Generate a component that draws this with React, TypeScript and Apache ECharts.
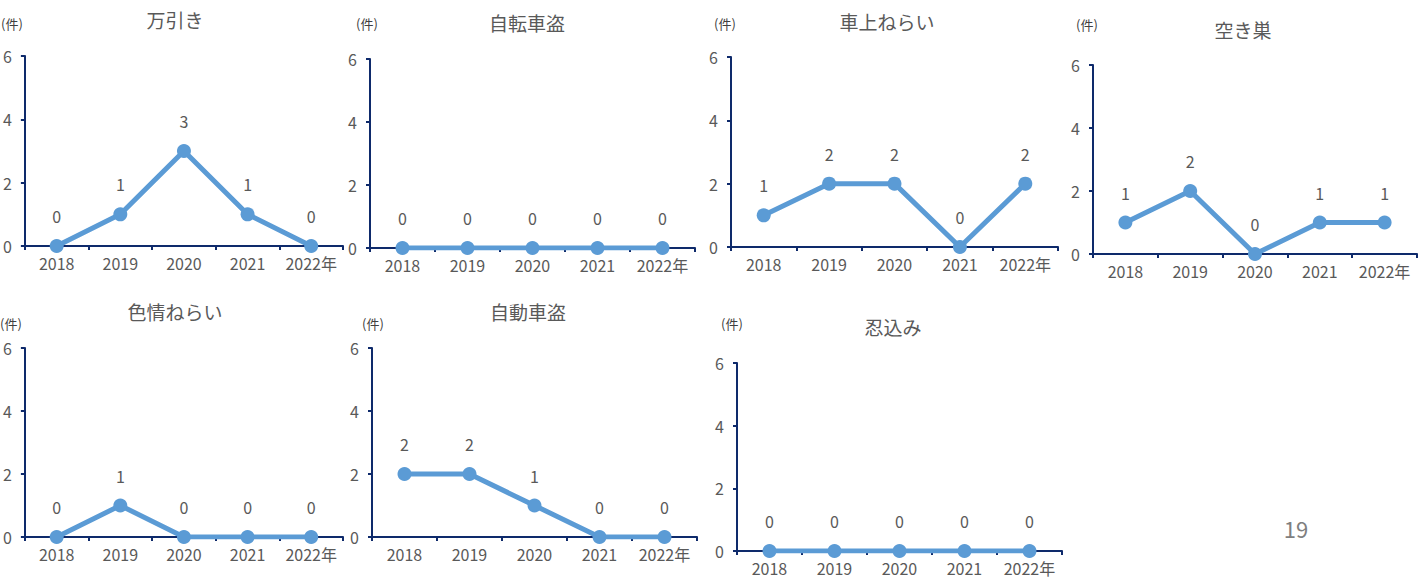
import React, { useEffect, useRef } from "react";
import * as echarts from "echarts";

const categories = ["2018", "2019", "2020", "2021", "2022年"];
const yTicks = [0, 2, 4, 6];
const unitLabel = "(件)";
const pageNumber = "19";

const titles = ["万引き", "自転車盗", "車上ねらい", "空き巣", "色情ねらい", "自動車盗", "忍込み"];
const manbiki = [0, 1, 3, 1, 0];
const jitenshaTou = [0, 0, 0, 0, 0];
const shajouNerai = [1, 2, 2, 0, 2];
const akisu = [1, 2, 0, 1, 1];
const shikijouNerai = [0, 1, 0, 0, 0];
const jidoushaTou = [2, 2, 1, 0, 0];
const shinobikomi = [0, 0, 0, 0, 0];
const seriesValues = [manbiki, jitenshaTou, shajouNerai, akisu, shikijouNerai, jidoushaTou, shinobikomi];

// layout: axis origin x, top y, right x, bottom y; title center; unit label position
const panels = [
  { l: 22, t: 56, r: 343, b: 246, tx: 175, ty: 19, ux: 1, uy: 23 },
  { l: 370, t: 59, r: 695, b: 248, tx: 527, ty: 22, ux: 356, uy: 23 },
  { l: 731, t: 57, r: 1058, b: 247, tx: 887, ty: 21, ux: 714, uy: 23 },
  { l: 1093, t: 65, r: 1417, b: 254, tx: 1243, ty: 29, ux: 1076, uy: 24 },
  { l: 22, t: 348, r: 343, b: 537, tx: 175, ty: 311, ux: 0, uy: 323 },
  { l: 372, t: 348, r: 697, b: 537, tx: 528, ty: 311, ux: 362, uy: 323 },
  { l: 737, t: 363, r: 1062, b: 551, tx: 893, ty: 326, ux: 721, uy: 323 },
];

const FONT = '"Noto Sans CJK JP", "Noto Sans", sans-serif';
const LINE = "#5B9BD5";
const AXIS = "#0E2A6B";
const TEXT = "#595959";

export default function App() {
  const ref = useRef<HTMLDivElement>(null);
  useEffect(() => {
    if (!ref.current) return;
    const chart = echarts.init(ref.current, null, { renderer: "svg" });
    const grid = panels.map((p) => ({
      left: p.l,
      top: p.t,
      width: p.r - p.l,
      height: p.b - p.t,
      containLabel: false,
    }));
    const xAxis = panels.map((_, i) => ({
      type: "category",
      gridIndex: i,
      data: categories,
      boundaryGap: true,
      axisLine: { show: true, lineStyle: { color: AXIS, width: 2 } },
      axisTick: { show: true, length: 4, lineStyle: { color: AXIS, width: 2 } },
      axisLabel: { color: TEXT, fontSize: 16, fontFamily: FONT, margin: 9, interval: 0, hideOverlap: false },
      splitLine: { show: false },
    }));
    const yAxis = panels.map((_, i) => ({
      type: "value",
      gridIndex: i,
      min: yTicks[0],
      max: yTicks[yTicks.length - 1],
      interval: yTicks[1] - yTicks[0],
      axisLine: { show: true, lineStyle: { color: AXIS, width: 2 } },
      axisTick: { show: true, length: 4, lineStyle: { color: AXIS, width: 2 } },
      axisLabel: { color: TEXT, fontSize: 16, fontFamily: FONT, margin: 13 },
      splitLine: { show: false },
    }));
    const series = seriesValues.map((vals, i) => ({
      type: "line",
      name: titles[i],
      xAxisIndex: i,
      yAxisIndex: i,
      data: vals,
      symbol: "circle",
      symbolSize: 14,
      lineStyle: { color: LINE, width: 5 },
      itemStyle: { color: LINE },
      label: {
        show: true,
        position: "top",
        distance: 15,
        color: TEXT,
        fontSize: 16,
        fontFamily: FONT,
      },
    }));
    const graphic: any[] = [];
    panels.forEach((p, i) => {
      graphic.push({
        type: "text",
        x: p.tx,
        y: p.ty,
        style: {
          text: titles[i],
          fill: TEXT,
          font: `19px ${FONT}`,
          textAlign: "center",
          textVerticalAlign: "middle",
        },
      });
      graphic.push({
        type: "text",
        x: p.ux,
        y: p.uy,
        style: {
          text: unitLabel,
          fill: "#404040",
          font: `13px ${FONT}`,
          textAlign: "left",
          textVerticalAlign: "middle",
        },
      });
    });
    graphic.push({
      type: "text",
      x: 1296,
      y: 528,
      style: {
        text: pageNumber,
        fill: "#7F7F7F",
        font: `22px ${FONT}`,
        textAlign: "center",
        textVerticalAlign: "middle",
      },
    });
    chart.setOption({
      animation: false,
      backgroundColor: "#ffffff",
      grid,
      xAxis,
      yAxis,
      series,
      graphic,
    });
    return () => chart.dispose();
  }, []);
  return (
    <div
      ref={ref}
      style={{ position: "fixed", left: 0, top: 0, width: 1418, height: 583 }}
    />
  );
}
